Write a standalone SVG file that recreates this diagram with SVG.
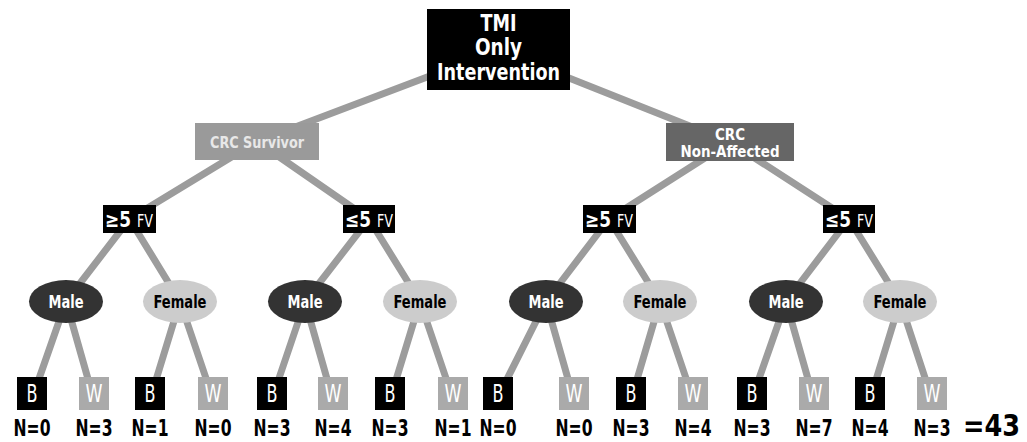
<svg xmlns="http://www.w3.org/2000/svg" width="1027" height="442" viewBox="0 0 1027 442">
  <style>
    text { font-family: "DejaVu Sans Condensed", "DejaVu Sans", sans-serif; text-anchor: middle; }
    .edge { stroke: #9c9c9c; stroke-width: 7; fill: none; }
    .root { fill: #000; }
    .surv { fill: #9a9a9a; }
    .nonaff { fill: #666; }
    .fv { fill: #000; }
    .male { fill: #333; }
    .female { fill: #ccc; }
    .b { fill: #000; }
    .w { fill: #aaa; }
    .t-root { fill: #fff; font-weight: bold; font-size: 23px; }
    .t-crc { font-weight: bold; font-size: 16px; }
    .t-nonaff { fill: #fff; font-weight: bold; font-size: 15px; }
    .t-cmp { fill: #fff; font-weight: bold; font-size: 21px; text-anchor: start; }
    .t-fv { fill: #fff; font-size: 18px; text-anchor: start; }
    .t-sex { font-weight: bold; font-size: 17px; }
    .t-bw { fill: #fff; font-size: 24px; }
    .t-n { fill: #000; font-weight: bold; font-size: 23px; }
  </style>

  <!-- connectors, drawn centre to centre behind the nodes -->
  <g id="connectors">
    <path class="edge" d="M498.5,50 L257,141.5 M498.5,50 L730,142"/>
    <path class="edge" d="M257,141.5 L129.5,219 M257,141.5 L369,219 M730,142 L609,219 M730,142 L849,219"/>
    <path class="edge" d="M129.5,219 L66,301.5 M129.5,219 L180,301.5 M369,219 L305,301.5 M369,219 L420,301.5 M609,219 L546,301.5 M609,219 L660,301.5 M849,219 L786,301.5 M849,219 L900,301.5"/>
    <path class="edge" d="M66,301.5 L34,393 M66,301.5 L92,393 M180,301.5 L152,393 M180,301.5 L211,393 M305,301.5 L274,393 M305,301.5 L331,393 M420,301.5 L392,393 M420,301.5 L451,393 M546,301.5 L500,393 M546,301.5 L572,393 M660,301.5 L633,393 M660,301.5 L691,393 M786,301.5 L754,393 M786,301.5 L812,393 M900,301.5 L872,393 M900,301.5 L930,393"/>
  </g>

  <!-- root -->
  <g id="root">
    <rect class="root" x="427" y="9" width="143" height="81"/>
    <text class="t-root" x="498.5" y="31" textLength="36" lengthAdjust="spacingAndGlyphs">TMI</text>
    <text class="t-root" x="498.5" y="55" textLength="47" lengthAdjust="spacingAndGlyphs">Only</text>
    <text class="t-root" x="498.5" y="80" textLength="123" lengthAdjust="spacingAndGlyphs">Intervention</text>
  </g>

  <!-- group level -->
  <g id="crc-survivor">
    <rect class="surv" x="195" y="123" width="124" height="37"/>
    <text class="t-crc" x="257" y="148" fill="#e8e8e8" textLength="94" lengthAdjust="spacingAndGlyphs">CRC Survivor</text>
  </g>
  <g id="crc-non-affected">
    <rect class="nonaff" x="666" y="123" width="128" height="38"/>
    <text class="t-nonaff" x="730" y="139.5" textLength="30" lengthAdjust="spacingAndGlyphs">CRC</text>
    <text class="t-nonaff" x="730" y="157" textLength="99" lengthAdjust="spacingAndGlyphs">Non-Affected</text>
  </g>

  <!-- fruit and vegetable servings -->
  <g id="fv-ge-1">
    <rect class="fv" x="103" y="205" width="53" height="28"/>
    <text class="t-cmp" x="105" y="227" textLength="26" lengthAdjust="spacingAndGlyphs">≥5</text>
    <text class="t-fv" x="137" y="227" textLength="16" lengthAdjust="spacingAndGlyphs">FV</text>
  </g>
  <g id="fv-le-1">
    <rect class="fv" x="343" y="205" width="52" height="28"/>
    <text class="t-cmp" x="345" y="227" textLength="26" lengthAdjust="spacingAndGlyphs">≤5</text>
    <text class="t-fv" x="377" y="227" textLength="16" lengthAdjust="spacingAndGlyphs">FV</text>
  </g>
  <g id="fv-ge-2">
    <rect class="fv" x="583" y="205" width="53" height="28"/>
    <text class="t-cmp" x="585" y="227" textLength="26" lengthAdjust="spacingAndGlyphs">≥5</text>
    <text class="t-fv" x="617" y="227" textLength="16" lengthAdjust="spacingAndGlyphs">FV</text>
  </g>
  <g id="fv-le-2">
    <rect class="fv" x="823" y="205" width="52" height="28"/>
    <text class="t-cmp" x="825" y="227" textLength="26" lengthAdjust="spacingAndGlyphs">≤5</text>
    <text class="t-fv" x="857" y="227" textLength="16" lengthAdjust="spacingAndGlyphs">FV</text>
  </g>

  <!-- sex -->
  <g id="male-1"><ellipse class="male" cx="66" cy="301.5" rx="37" ry="21.5"/><text class="t-sex" x="66" y="308" fill="#fff" textLength="35" lengthAdjust="spacingAndGlyphs">Male</text></g>
  <g id="female-1"><ellipse class="female" cx="180" cy="301.5" rx="37" ry="21.5"/><text class="t-sex" x="180" y="308" fill="#000" textLength="53" lengthAdjust="spacingAndGlyphs">Female</text></g>
  <g id="male-2"><ellipse class="male" cx="305" cy="301.5" rx="37" ry="21.5"/><text class="t-sex" x="305" y="308" fill="#fff" textLength="35" lengthAdjust="spacingAndGlyphs">Male</text></g>
  <g id="female-2"><ellipse class="female" cx="420" cy="301.5" rx="37" ry="21.5"/><text class="t-sex" x="420" y="308" fill="#000" textLength="53" lengthAdjust="spacingAndGlyphs">Female</text></g>
  <g id="male-3"><ellipse class="male" cx="546" cy="301.5" rx="37" ry="21.5"/><text class="t-sex" x="546" y="308" fill="#fff" textLength="35" lengthAdjust="spacingAndGlyphs">Male</text></g>
  <g id="female-3"><ellipse class="female" cx="660" cy="301.5" rx="37" ry="21.5"/><text class="t-sex" x="660" y="308" fill="#000" textLength="53" lengthAdjust="spacingAndGlyphs">Female</text></g>
  <g id="male-4"><ellipse class="male" cx="786" cy="301.5" rx="37" ry="21.5"/><text class="t-sex" x="786" y="308" fill="#fff" textLength="35" lengthAdjust="spacingAndGlyphs">Male</text></g>
  <g id="female-4"><ellipse class="female" cx="900" cy="301.5" rx="37" ry="21.5"/><text class="t-sex" x="900" y="308" fill="#000" textLength="53" lengthAdjust="spacingAndGlyphs">Female</text></g>

  <!-- race leaves with counts -->
  <g id="leaf-1"><rect class="b" x="17" y="377" width="30" height="33"/><text class="t-bw" x="32" y="402" textLength="11" lengthAdjust="spacingAndGlyphs">B</text><text class="t-n" x="32" y="436" textLength="37" lengthAdjust="spacingAndGlyphs">N=0</text></g>
  <g id="leaf-2"><rect class="w" x="79" y="377" width="30" height="33"/><text class="t-bw" x="94" y="402" textLength="17" lengthAdjust="spacingAndGlyphs">W</text><text class="t-n" x="94" y="436" textLength="37" lengthAdjust="spacingAndGlyphs">N=3</text></g>
  <g id="leaf-3"><rect class="b" x="135" y="377" width="30" height="33"/><text class="t-bw" x="150" y="402" textLength="11" lengthAdjust="spacingAndGlyphs">B</text><text class="t-n" x="150" y="436" textLength="37" lengthAdjust="spacingAndGlyphs">N=1</text></g>
  <g id="leaf-4"><rect class="w" x="198" y="377" width="30" height="33"/><text class="t-bw" x="213" y="402" textLength="17" lengthAdjust="spacingAndGlyphs">W</text><text class="t-n" x="213" y="436" textLength="37" lengthAdjust="spacingAndGlyphs">N=0</text></g>
  <g id="leaf-5"><rect class="b" x="257" y="377" width="30" height="33"/><text class="t-bw" x="272" y="402" textLength="11" lengthAdjust="spacingAndGlyphs">B</text><text class="t-n" x="272" y="436" textLength="37" lengthAdjust="spacingAndGlyphs">N=3</text></g>
  <g id="leaf-6"><rect class="w" x="318" y="377" width="30" height="33"/><text class="t-bw" x="333" y="402" textLength="17" lengthAdjust="spacingAndGlyphs">W</text><text class="t-n" x="333" y="436" textLength="37" lengthAdjust="spacingAndGlyphs">N=4</text></g>
  <g id="leaf-7"><rect class="b" x="375" y="377" width="30" height="33"/><text class="t-bw" x="390" y="402" textLength="11" lengthAdjust="spacingAndGlyphs">B</text><text class="t-n" x="390" y="436" textLength="37" lengthAdjust="spacingAndGlyphs">N=3</text></g>
  <g id="leaf-8"><rect class="w" x="438" y="377" width="30" height="33"/><text class="t-bw" x="453" y="402" textLength="17" lengthAdjust="spacingAndGlyphs">W</text><text class="t-n" x="453" y="436" textLength="37" lengthAdjust="spacingAndGlyphs">N=1</text></g>
  <g id="leaf-9"><rect class="b" x="483" y="377" width="30" height="33"/><text class="t-bw" x="498" y="402" textLength="11" lengthAdjust="spacingAndGlyphs">B</text><text class="t-n" x="498" y="436" textLength="37" lengthAdjust="spacingAndGlyphs">N=0</text></g>
  <g id="leaf-10"><rect class="w" x="559" y="377" width="30" height="33"/><text class="t-bw" x="574" y="402" textLength="17" lengthAdjust="spacingAndGlyphs">W</text><text class="t-n" x="574" y="436" textLength="37" lengthAdjust="spacingAndGlyphs">N=0</text></g>
  <g id="leaf-11"><rect class="b" x="616" y="377" width="30" height="33"/><text class="t-bw" x="631" y="402" textLength="11" lengthAdjust="spacingAndGlyphs">B</text><text class="t-n" x="631" y="436" textLength="37" lengthAdjust="spacingAndGlyphs">N=3</text></g>
  <g id="leaf-12"><rect class="w" x="678" y="377" width="30" height="33"/><text class="t-bw" x="693" y="402" textLength="17" lengthAdjust="spacingAndGlyphs">W</text><text class="t-n" x="693" y="436" textLength="37" lengthAdjust="spacingAndGlyphs">N=4</text></g>
  <g id="leaf-13"><rect class="b" x="737" y="377" width="30" height="33"/><text class="t-bw" x="752" y="402" textLength="11" lengthAdjust="spacingAndGlyphs">B</text><text class="t-n" x="752" y="436" textLength="37" lengthAdjust="spacingAndGlyphs">N=3</text></g>
  <g id="leaf-14"><rect class="w" x="799" y="377" width="30" height="33"/><text class="t-bw" x="814" y="402" textLength="17" lengthAdjust="spacingAndGlyphs">W</text><text class="t-n" x="814" y="436" textLength="37" lengthAdjust="spacingAndGlyphs">N=7</text></g>
  <g id="leaf-15"><rect class="b" x="855" y="377" width="30" height="33"/><text class="t-bw" x="870" y="402" textLength="11" lengthAdjust="spacingAndGlyphs">B</text><text class="t-n" x="870" y="436" textLength="37" lengthAdjust="spacingAndGlyphs">N=4</text></g>
  <g id="leaf-16"><rect class="w" x="917" y="377" width="30" height="33"/><text class="t-bw" x="932" y="402" textLength="17" lengthAdjust="spacingAndGlyphs">W</text><text class="t-n" x="932" y="436" textLength="37" lengthAdjust="spacingAndGlyphs">N=3</text></g>

  <g id="total">
    <text x="991.5" y="436" font-weight="bold" font-size="30" fill="#000" textLength="57" lengthAdjust="spacingAndGlyphs">=43</text>
  </g>
</svg>
